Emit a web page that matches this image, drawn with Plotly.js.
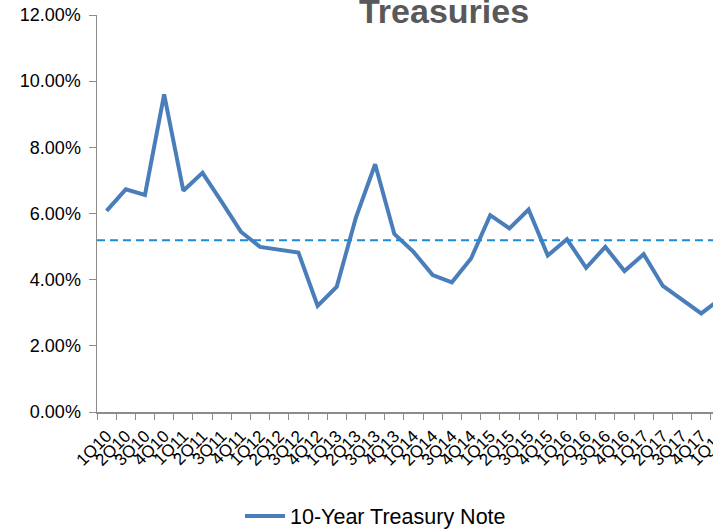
<!DOCTYPE html>
<html>
<head>
<meta charset="utf-8">
<script src="https://cdn.plot.ly/plotly-3.0.1.min.js"></script>
<style>
html,body{margin:0;padding:0;overflow:hidden;background:#fff;}
#chart{width:730px;height:530px;}
</style>
</head>
<body>
<div id="chart"></div>
<script>
const quarters = ["1Q10","2Q10","3Q10","4Q10","1Q11","2Q11","3Q11","4Q11","1Q12","2Q12","3Q12","4Q12",
  "1Q13","2Q13","3Q13","4Q13","1Q14","2Q14","3Q14","4Q14","1Q15","2Q15","3Q15","4Q15",
  "1Q16","2Q16","3Q16","4Q16","1Q17","2Q17","3Q17","4Q17","1Q18"];
const treasury10y = [6.08,6.73,6.56,9.60,6.69,7.23,6.35,5.45,4.99,4.92,4.82,3.21,
  3.79,5.88,7.49,5.38,4.84,4.14,3.92,4.64,5.95,5.55,6.12,4.73,
  5.22,4.36,4.99,4.26,4.77,3.81,3.40,2.98,3.42];
const averageLevel = 5.19;
const yTicks = [0,2,4,6,8,10,12];

const trace = {
  x: quarters, y: treasury10y, type: 'scatter', mode: 'lines',
  name: '10-Year Treasury Note',
  line: {color: '#4a7ebb', width: 4}
};

const layout = {
  width: 730, height: 530,
  margin: {l: 97, r: 0, t: 15, b: 118},
  paper_bgcolor: '#fff', plot_bgcolor: '#fff',
  font: {family: 'Liberation Sans, Arial, sans-serif', color: '#000'},
  title: {
    text: '<b>Treasuries</b>',
    font: {size: 34, color: '#595959', family: 'Liberation Sans, Arial, sans-serif'},
    xref: 'container', x: 444/730, xanchor: 'center',
    yref: 'container', y: 1 - 23/530, yanchor: 'bottom'
  },
  xaxis: {
    type: 'category', range: [-0.5, 32.5], automargin: false,
    tickmode: 'array', tickvals: quarters, ticktext: quarters,
    tickangle: -45, tickson: 'boundaries', ticks: 'outside', ticklen: 6,
    ticklabelstandoff: 6,
    tickcolor: '#8c8c8c', showline: true, linecolor: '#8c8c8c', linewidth: 1.5,
    showgrid: false, zeroline: false, tickfont: {size: 17, color: '#000'}
  },
  yaxis: {
    range: [0, 12], automargin: false, tickvals: yTicks, ticktext: yTicks.map(v => v.toFixed(2) + '%'),
    ticks: 'outside', ticklen: 7, tickcolor: '#8c8c8c', ticklabelstandoff: 4,
    showline: true, linecolor: '#8c8c8c', linewidth: 1.5,
    showgrid: false, zeroline: false, tickfont: {size: 18, color: '#000'}
  },
  shapes: [{
    type: 'line', xref: 'paper', x0: 0, x1: 1, yref: 'y', y0: averageLevel, y1: averageLevel,
    line: {color: '#1f8ad6', width: 2, dash: '8px,5px'}
  }],
  showlegend: true,
  legend: {
    orientation: 'h', xref: 'container', yref: 'container',
    x: 240/730, xanchor: 'left', y: (530 - 516)/530, yanchor: 'middle',
    itemwidth: 40,
    font: {size: 21.5, color: '#000'}
  }
};

Plotly.newPlot('chart', [trace], layout, {displayModeBar: false, staticPlot: true});
</script>
</body>
</html>
